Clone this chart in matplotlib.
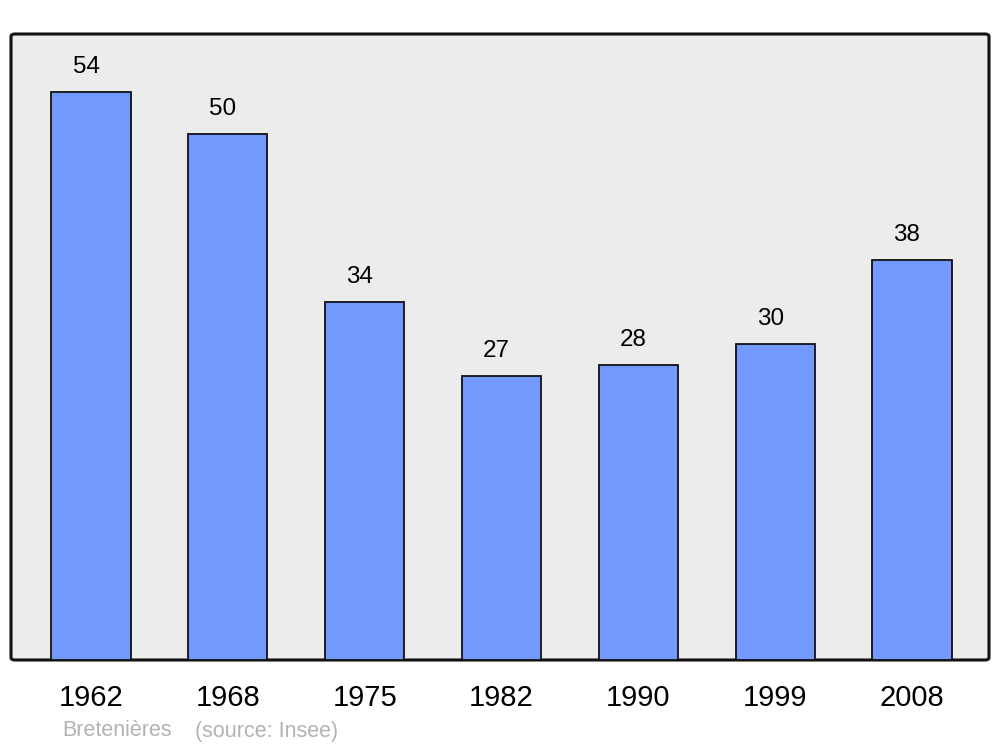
import matplotlib.pyplot as plt
from matplotlib.patches import FancyBboxPatch

years = ["1962", "1968", "1975", "1982", "1990", "1999", "2008"]
population = [54, 50, 34, 27, 28, 30, 38]
commune = "Bretenières"
source = "(source: Insee)"

plt.rcParams['font.family'] = ['Liberation Sans', 'DejaVu Sans']

fig = plt.figure(figsize=(10, 7.47), dpi=100)
ax = fig.add_axes([0.011, 1 - 660 / 747, 0.978, 626 / 747])
ax.set_xlim(-0.585, len(years) - 1 + 0.563)
ax.set_ylim(0, 59.5)
ax.set_facecolor('none')
for s in ax.spines.values():
    s.set_visible(False)

# rounded frame behind the bars
frame = FancyBboxPatch((0, 0), 1, 1, boxstyle="round,pad=0,rounding_size=0.004",
                       transform=ax.transAxes, facecolor='#ececec',
                       edgecolor='#111111', linewidth=2.2, zorder=0, clip_on=False)
ax.add_patch(frame)

x = list(range(len(years)))
bars = ax.bar(x, population, width=0.578, color='#7399ff',
              edgecolor='#111111', linewidth=1.3, zorder=2)

for xi, v in zip(x, population):
    ax.annotate(str(v), (xi, v), xytext=(-3.6, 18.2), textcoords='offset points',
                ha='center', va='center', fontsize=17.5, color='black')

ax.set_xticks(x)
ax.set_xticklabels(years, fontsize=21)
ax.tick_params(axis='x', length=0, pad=17)
ax.set_yticks([])

fig.text(0.062, 1 - 731 / 747, commune, fontsize=15.5, color='#b3b3b3', va='center')
fig.text(0.195, 1 - 731 / 747, source, fontsize=15.5, color='#b3b3b3', va='center')

fig.savefig('out.png', dpi=100)
